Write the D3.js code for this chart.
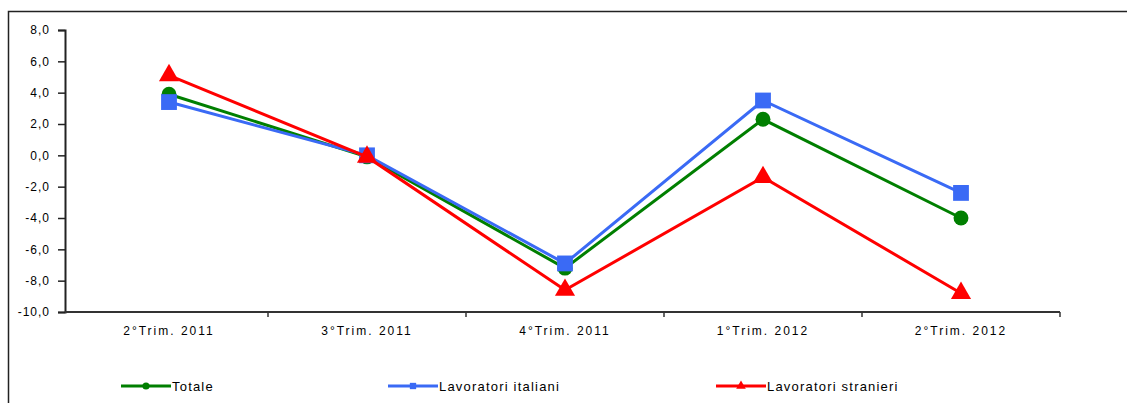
<!DOCTYPE html>
<html>
<head>
<meta charset="utf-8">
<script src="https://cdn.jsdelivr.net/npm/d3@7"></script>
<style>
  html, body { margin: 0; padding: 0; background: #fff; }
  svg { display: block; }
  text { font-family: "Liberation Sans", Arial, sans-serif; fill: #000; }
</style>
</head>
<body>
<svg id="chart" width="1127" height="403"></svg>
<script>
// Quarterly change (%) of employment
const categories = ["2°Trim. 2011", "3°Trim. 2011", "4°Trim. 2011", "1°Trim. 2012", "2°Trim. 2012"];
const totale = [3.9, -0.1, -7.2, 2.3, -4.0];
const italiani = [3.4, 0.0, -6.9, 3.5, -2.4];
const stranieri = [5.1, -0.1, -8.6, -1.4, -8.8];
const yTicks = [8, 6, 4, 2, 0, -2, -4, -6, -8, -10];

const series = [
  { name: "Totale", values: totale, color: "#007f00", symbol: d3.symbolCircle, size: 175, legendX: 121 },
  { name: "Lavoratori italiani", values: italiani, color: "#3a6af5", symbol: d3.symbolSquare, size: 250, legendX: 388 },
  { name: "Lavoratori stranieri", values: stranieri, color: "#ff0000", symbol: d3.symbolTriangle, size: 175, legendX: 716 }
];

const svg = d3.select("#chart");

// outer frame (clipped by the canvas on the right and bottom)
svg.append("rect")
  .attr("x", 8.5).attr("y", 11.5)
  .attr("width", 1200).attr("height", 500)
  .attr("fill", "none").attr("stroke", "#222").attr("stroke-width", 1.5);

const x = d3.scaleBand().domain(categories).range([70, 1060]);
const y = d3.scaleLinear().domain([-10, 8]).range([312, 30]);
const axisX0 = 65;

const fmt = v => d3.format(".1f")(v).replace(".", ",").replace("−", "-");

// y axis
const yAxis = svg.append("g")
  .attr("transform", `translate(${axisX0},0)`)
  .call(d3.axisLeft(y).tickValues(yTicks).tickSize(7).tickPadding(8).tickFormat(fmt));
yAxis.select(".domain").attr("stroke", "#222").attr("stroke-width", 2);
yAxis.selectAll(".tick line").attr("stroke", "#222").attr("stroke-width", 1.5);
yAxis.selectAll(".tick text")
  .style("font-size", "12px").style("letter-spacing", "1px")
  .style("font-family", "'Liberation Sans', Arial, sans-serif");

// x axis: ticks at category boundaries, labels centred in each band
const xAxis = svg.append("g").attr("transform", "translate(0,312)");
xAxis.append("line")
  .attr("x1", axisX0).attr("x2", x.range()[1]).attr("y1", 0).attr("y2", 0)
  .attr("stroke", "#333").attr("stroke-width", 2);
const boundaries = categories.map(c => x(c) + x.bandwidth());
xAxis.selectAll("line.tick")
  .data(boundaries)
  .join("line")
  .attr("class", "tick")
  .attr("x1", d => d).attr("x2", d => d)
  .attr("y1", 0).attr("y2", 5)
  .attr("stroke", "#333").attr("stroke-width", 1.5);
xAxis.selectAll("text")
  .data(categories)
  .join("text")
  .attr("x", d => x(d) + x.bandwidth() / 2)
  .attr("y", 23)
  .attr("text-anchor", "middle")
  .style("font-size", "12px")
  .style("letter-spacing", "2px")
  .text(d => d);

// series lines and markers
const line = d3.line()
  .x((d, i) => x(categories[i]) + x.bandwidth() / 2)
  .y(d => y(d));

series.forEach(s => {
  const g = svg.append("g");
  g.append("path")
    .datum(s.values)
    .attr("d", line)
    .attr("fill", "none")
    .attr("stroke", s.color)
    .attr("stroke-width", 3);
  g.selectAll("path.mark")
    .data(s.values)
    .join("path")
    .attr("class", "mark")
    .attr("transform", (d, i) => `translate(${x(categories[i]) + x.bandwidth() / 2},${y(d)})`)
    .attr("d", d3.symbol().type(s.symbol).size(s.size))
    .attr("fill", s.color);
});

// legend
const legend = svg.append("g").attr("transform", "translate(0,386)");
series.forEach(s => {
  const lg = legend.append("g").attr("transform", `translate(${s.legendX},0)`);
  lg.append("line")
    .attr("x1", 0).attr("x2", 50).attr("y1", 0).attr("y2", 0)
    .attr("stroke", s.color).attr("stroke-width", 3);
  lg.append("path")
    .attr("transform", "translate(25,0)")
    .attr("d", d3.symbol().type(s.symbol).size(40))
    .attr("fill", s.color);
  lg.append("text")
    .attr("x", 51).attr("y", 5)
    .style("font-size", "13px")
    .style("letter-spacing", "1.2px")
    .text(s.name);
});
</script>
</body>
</html>
